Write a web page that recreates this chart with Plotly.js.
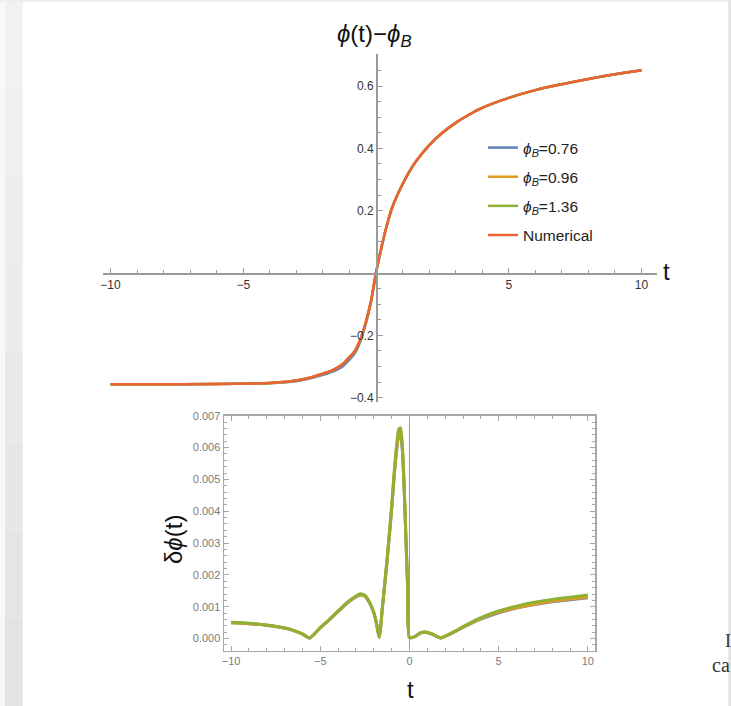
<!DOCTYPE html>
<html>
<head>
<meta charset="utf-8">
<script src="https://cdn.plot.ly/plotly-3.0.1.min.js"></script>
<style>
html,body{margin:0;padding:0;background:#ffffff;}
#chart{width:731px;height:706px;}
</style>
</head>
<body>
<div id="chart"></div>
<script>
// ---------- data: top panel  phi(t) - phi_B ----------
const tTop = [-10,-8,-6,-5,-4,-3.5,-3,-2.5,-2,-1.75,-1.5,-1.25,-1,-0.8,-0.6,-0.4,-0.2,0,0.2,0.4,0.6,0.8,1,1.25,1.5,2,2.5,3,3.5,4,5,6,7,8,9,10];
const phiNumerical = [-0.357,-0.357,-0.356,-0.355,-0.353,-0.350,-0.345,-0.336,-0.323,-0.316,-0.306,-0.292,-0.270,-0.250,-0.215,-0.162,-0.095,0,0.080,0.150,0.208,0.250,0.285,0.325,0.358,0.410,0.450,0.482,0.508,0.530,0.562,0.587,0.606,0.623,0.638,0.651];
const phiB076 = [-0.357,-0.357,-0.356,-0.355,-0.354,-0.351,-0.347,-0.339,-0.327,-0.320,-0.312,-0.299,-0.278,-0.258,-0.222,-0.168,-0.098,0,0.080,0.150,0.208,0.250,0.285,0.325,0.358,0.410,0.450,0.482,0.508,0.530,0.562,0.587,0.606,0.623,0.638,0.651];
const phiB096 = [-0.357,-0.357,-0.356,-0.355,-0.353,-0.350,-0.345,-0.336,-0.323,-0.316,-0.306,-0.292,-0.271,-0.251,-0.216,-0.163,-0.095,0,0.080,0.150,0.208,0.250,0.285,0.325,0.358,0.410,0.450,0.482,0.508,0.530,0.562,0.587,0.606,0.623,0.638,0.651];
const phiB136 = [-0.357,-0.357,-0.356,-0.355,-0.353,-0.350,-0.345,-0.336,-0.323,-0.316,-0.306,-0.292,-0.271,-0.251,-0.216,-0.163,-0.095,0,0.080,0.150,0.208,0.250,0.285,0.325,0.358,0.410,0.450,0.482,0.508,0.530,0.562,0.587,0.606,0.623,0.638,0.651];

// ---------- data: bottom panel  delta phi(t) ----------
const tBot = [-10,-9,-8,-7,-6.5,-6,-5.6,-5,-4.5,-4,-3.5,-3,-2.75,-2.5,-2.25,-2,-1.85,-1.7,-1.5,-1.25,-1,-0.8,-0.6,-0.5,-0.4,-0.3,-0.2,-0.1,0,0.3,0.6,0.9,1.2,1.5,1.75,2,2.5,3,4,5,6,7,8,9,10];
const dB076 = [0.00050,0.00047,0.00042,0.00033,0.00025,0.00014,0.00002,0.00034,0.00059,0.00085,0.00111,0.00131,0.00137,0.00133,0.00113,0.00080,0.00047,0.00004,0.00108,0.00247,0.00405,0.00548,0.00635,0.00640,0.00590,0.00470,0.00310,0.00155,0.00003,0.00006,0.00017,0.00020,0.00015,0.00008,0.00002,0.00007,0.00020,0.00035,0.00061,0.00081,0.00096,0.00107,0.00116,0.00122,0.00128];
const dB096 = [0.00050,0.00047,0.00042,0.00033,0.00025,0.00014,0.00002,0.00034,0.00059,0.00086,0.00112,0.00132,0.00138,0.00134,0.00114,0.00081,0.00047,0.00004,0.00109,0.00250,0.00410,0.00553,0.00642,0.00648,0.00596,0.00475,0.00313,0.00157,0.00003,0.00006,0.00017,0.00021,0.00016,0.00008,0.00002,0.00007,0.00021,0.00036,0.00063,0.00083,0.00097,0.00108,0.00117,0.00124,0.00130];
const dB136 = [0.00051,0.00048,0.00043,0.00034,0.00026,0.00015,0.00002,0.00035,0.00060,0.00087,0.00114,0.00134,0.00141,0.00136,0.00116,0.00082,0.00048,0.00004,0.00110,0.00255,0.00418,0.00562,0.00658,0.00662,0.00608,0.00482,0.00318,0.00160,0.00003,0.00006,0.00018,0.00021,0.00016,0.00008,0.00002,0.00008,0.00022,0.00038,0.00066,0.00087,0.00102,0.00114,0.00123,0.00130,0.00137];

// ---------- tick labels ----------
const topXTicks = [-10,-5,5,10];
const topXText = ["\u221210","\u22125","5","10"];
const topYTicks = [-0.4,-0.2,0.2,0.4,0.6];
const topYText = ["\u22120.4","\u22120.2","0.2","0.4","0.6"];
const botXTicks = [-10,-5,0,5,10];
const botXText = ["\u221210","\u22125","0","5","10"];
const botYTicks = [0,0.001,0.002,0.003,0.004,0.005,0.006,0.007];
const botYText = ["0.000","0.001","0.002","0.003","0.004","0.005","0.006","0.007"];

const C_BLUE = "#5E81B5", C_ORANGE = "#E19C24", C_GREEN = "#8FB032", C_RED = "#EB6235";
const W = 731, H = 706;
const px = v => v / W;
const py = v => 1 - v / H;

const traces = [
  {x: tTop, y: phiB076, name: "<i>ϕ</i><sub><i>B</i></sub>=0.76", legendgroup: "a", line: {color: C_BLUE, width: 2.5, shape: "spline"}, mode: "lines", xaxis: "x", yaxis: "y"},
  {x: tTop, y: phiB096, name: "<i>ϕ</i><sub><i>B</i></sub>=0.96", legendgroup: "b", line: {color: C_ORANGE, width: 2.5, shape: "spline"}, mode: "lines", xaxis: "x", yaxis: "y"},
  {x: tTop, y: phiB136, name: "<i>ϕ</i><sub><i>B</i></sub>=1.36", legendgroup: "c", line: {color: C_GREEN, width: 2.5, shape: "spline"}, mode: "lines", xaxis: "x", yaxis: "y"},
  {x: tTop, y: phiNumerical, name: "Numerical", legendgroup: "d", line: {color: C_RED, width: 2.5, shape: "spline"}, mode: "lines", xaxis: "x", yaxis: "y"},
  {x: tBot, y: dB076, showlegend: false, line: {color: C_BLUE, width: 3, shape: "spline", smoothing: 0.6}, mode: "lines", xaxis: "x2", yaxis: "y2"},
  {x: tBot, y: dB096, showlegend: false, line: {color: C_ORANGE, width: 3, shape: "spline", smoothing: 0.6}, mode: "lines", xaxis: "x2", yaxis: "y2"},
  {x: tBot, y: dB136, showlegend: false, line: {color: C_GREEN, width: 3, shape: "spline", smoothing: 0.6}, mode: "lines", xaxis: "x2", yaxis: "y2"}
];

// top panel geometry (pixels)
const topL = 102.7, topR = 657, topT = 54, topB = 401.7;
const xZeroPx = 376, yZeroPx = 273;
const topXRange = [-10.294, 10.584];
const topYRange = [-0.413, 0.703];

const axisGray = "#9a9a9a";
const tickFontTop = {family: "Liberation Sans, Arial, sans-serif", size: 12, color: "#333333"};
const tickFontBot = {family: "Liberation Sans, Arial, sans-serif", size: 11, color: "#7a7a7a"};

// background strips
const shapes = [];
const bands = ["#f1f1f1","#efefef","#ededed","#ebebeb","#e9e9e9","#e7e7e7","#e5e5e5","#e3e3e3"];
bands.forEach((c, i) => {
  shapes.push({type: "rect", xref: "paper", yref: "paper", x0: px(5), x1: px(22.7), y0: py((i + 1) * H / bands.length), y1: py(i * H / bands.length), fillcolor: c, line: {width: 0}, layer: "below"});
});
shapes.push({type: "rect", xref: "paper", yref: "paper", x0: 0, x1: px(5), y0: 0, y1: 1, fillcolor: "#f8f8f8", line: {width: 0}, layer: "below"});
shapes.push({type: "rect", xref: "paper", yref: "paper", x0: 0, x1: 1, y0: py(2), y1: 1, fillcolor: "#eeeeee", line: {width: 0}, layer: "below"});
shapes.push({type: "rect", xref: "paper", yref: "paper", x0: px(728.3), x1: 1, y0: 0, y1: 1, fillcolor: "#e2e2e2", line: {width: 0}, layer: "above"});

const layout = {
  width: W, height: H,
  margin: {l: 0, r: 0, t: 0, b: 0, pad: 0},
  paper_bgcolor: "#ffffff",
  plot_bgcolor: "rgba(0,0,0,0)",
  showlegend: true,
  legend: {
    x: px(483), y: py(131), xanchor: "left", yanchor: "top",
    bgcolor: "rgba(0,0,0,0)", borderwidth: 0,
    font: {family: "Liberation Sans, Arial, sans-serif", size: 15.5, color: "#222222"},
    tracegroupgap: 6, traceorder: "grouped"
  },
  xaxis: {
    domain: [px(topL), px(topR)], range: topXRange, anchor: "free", position: py(yZeroPx),
    showline: true, linecolor: axisGray, linewidth: 1.5, showgrid: false, zeroline: false,
    tickmode: "array", tickvals: topXTicks, ticktext: topXText, ticks: "inside", ticklen: 5, tickcolor: axisGray, tickwidth: 1,
    minor: {dtick: 1, tick0: 0, ticks: "inside", ticklen: 3, tickcolor: axisGray, tickwidth: 1},
    tickfont: tickFontTop, fixedrange: true
  },
  yaxis: {
    domain: [py(topB), py(topT)], range: topYRange, anchor: "free", position: px(xZeroPx),
    showline: true, linecolor: axisGray, linewidth: 1.5, showgrid: false, zeroline: false,
    tickmode: "array", tickvals: topYTicks, ticktext: topYText, ticks: "inside", ticklen: 5, tickcolor: axisGray, tickwidth: 1,
    minor: {dtick: 0.05, tick0: 0, ticks: "inside", ticklen: 3, tickcolor: axisGray, tickwidth: 1},
    tickfont: tickFontTop, fixedrange: true
  },
  xaxis2: {
    domain: [px(224), px(595)], range: [-10.4, 10.4], anchor: "y2",
    showline: true, mirror: "ticks", linecolor: "#a8a8a8", linewidth: 1.5, showgrid: false,
    zeroline: true, zerolinecolor: "#9a9a9a", zerolinewidth: 1.5,
    tickmode: "array", tickvals: botXTicks, ticktext: botXText, ticks: "inside", ticklen: 5, tickcolor: "#a8a8a8", tickwidth: 1,
    minor: {dtick: 1, tick0: 0, ticks: "inside", ticklen: 3, tickcolor: "#a8a8a8", tickwidth: 1},
    tickfont: tickFontBot, fixedrange: true
  },
  yaxis2: {
    domain: [py(650.7), py(415.7)], range: [-0.00038, 0.007], anchor: "x2",
    showline: true, mirror: "ticks", linecolor: "#a8a8a8", linewidth: 1.5, showgrid: false, zeroline: false,
    tickmode: "array", tickvals: botYTicks, ticktext: botYText, ticks: "inside", ticklen: 5, tickcolor: "#a8a8a8", tickwidth: 1,
    minor: {dtick: 0.0002, tick0: 0, ticks: "inside", ticklen: 3, tickcolor: "#a8a8a8", tickwidth: 1},
    tickfont: tickFontBot, fixedrange: true
  },
  shapes: shapes,
  annotations: [
    {text: "<i>ϕ</i>(t)−<i>ϕ</i><sub><i>B</i></sub>", xref: "paper", yref: "paper", x: px(375), y: py(35), xanchor: "center", yanchor: "middle", showarrow: false,
     font: {family: "Liberation Sans, Arial, sans-serif", size: 24, color: "#111111"}},
    {text: "t", xref: "paper", yref: "paper", x: px(666), y: py(272), xanchor: "center", yanchor: "middle", showarrow: false,
     font: {family: "Liberation Sans, Arial, sans-serif", size: 24, color: "#111111"}},
    {text: "δ<i>ϕ</i>(t)", xref: "paper", yref: "paper", x: px(173), y: py(540), xanchor: "center", yanchor: "middle", textangle: -90, showarrow: false,
     font: {family: "Liberation Sans, Arial, sans-serif", size: 24, color: "#111111"}},
    {text: "t", xref: "paper", yref: "paper", x: px(410), y: py(689), xanchor: "center", yanchor: "middle", showarrow: false,
     font: {family: "Liberation Sans, Arial, sans-serif", size: 24, color: "#111111"}},
    {text: "I", xref: "paper", yref: "paper", x: px(723), y: py(641), xanchor: "left", yanchor: "middle", showarrow: false,
     font: {family: "Liberation Serif, serif", size: 18, color: "#333333"}},
    {text: "ca", xref: "paper", yref: "paper", x: px(710), y: py(665), xanchor: "left", yanchor: "middle", showarrow: false,
     font: {family: "Liberation Serif, serif", size: 20, color: "#333333"}}
  ]
};

Plotly.newPlot("chart", traces, layout, {staticPlot: true, displayModeBar: false});
</script>
</body>
</html>
